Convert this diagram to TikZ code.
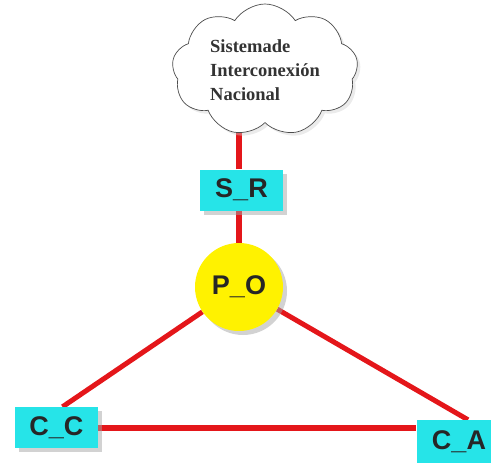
\documentclass[tikz,border=0pt]{standalone}
\usepackage{fontspec}
\setmainfont{Liberation Serif}
\setsansfont{Liberation Sans}
\usetikzlibrary{shapes.symbols,shadows,backgrounds}

\definecolor{boxcyan}{RGB}{38,228,232}
\definecolor{linkred}{RGB}{228,22,26}

\tikzset{
    unit/.style={draw=none, fill=boxcyan, minimum width=83pt, minimum height=41pt, inner sep=0pt,
        font=\sffamily\bfseries\fontsize{27}{32}\selectfont, text=black!85,
        drop shadow={shadow xshift=4pt, shadow yshift=-4pt, fill=gray!70, opacity=0.5}},
    link/.style={draw=linkred, line width=5.5pt}
}

\begin{document}
\begin{tikzpicture}[x=1pt, y=-1pt]
    \useasboundingbox (0,0) rectangle (491,463);

    \node[cloud, cloud puffs=9, cloud puff arc=115, aspect=1.5, draw=gray!60!black, line width=0.7pt,
          fill=white, minimum width=186pt, minimum height=132pt, inner sep=0pt,
          drop shadow={shadow xshift=3pt, shadow yshift=-3pt, fill=gray!40, opacity=0.4},
          align=left, text=black!80, font=\bfseries\fontsize{18.5}{24}\selectfont] (sin) at (265,70)
          {Sistemade\\Interconexión\\Nacional};

    \node[unit] (sr) at (241.5,190) {S\_R};
    \node[circle, fill=yellow, minimum size=88pt, inner sep=0pt, text=black!85,
          font=\sffamily\bfseries\fontsize{27}{32}\selectfont,
          drop shadow={shadow xshift=4pt, shadow yshift=-4pt, fill=gray!70, opacity=0.5}] (po) at (239,287) {P\_O};
    \node[unit] (cc) at (56.5,427.5) {C\_C};
    \node[unit, minimum width=85pt, minimum height=43pt] (ca) at (459,441.5) {C\_A};

    \begin{scope}[on background layer]
        \draw[link] (sr.north -| po) -- (sin.south -| po);
        \draw[link] (sr.south -| po) -- (po);
        \draw[link, line width=5pt] (po) -- ([xshift=6pt]cc.north);
        \draw[link, line width=5pt] (po) -- ([xshift=9pt]ca.north);
        \draw[link, line width=6pt] (cc.east) -- (cc.east -| ca.west);
    \end{scope}
\end{tikzpicture}
\end{document}
